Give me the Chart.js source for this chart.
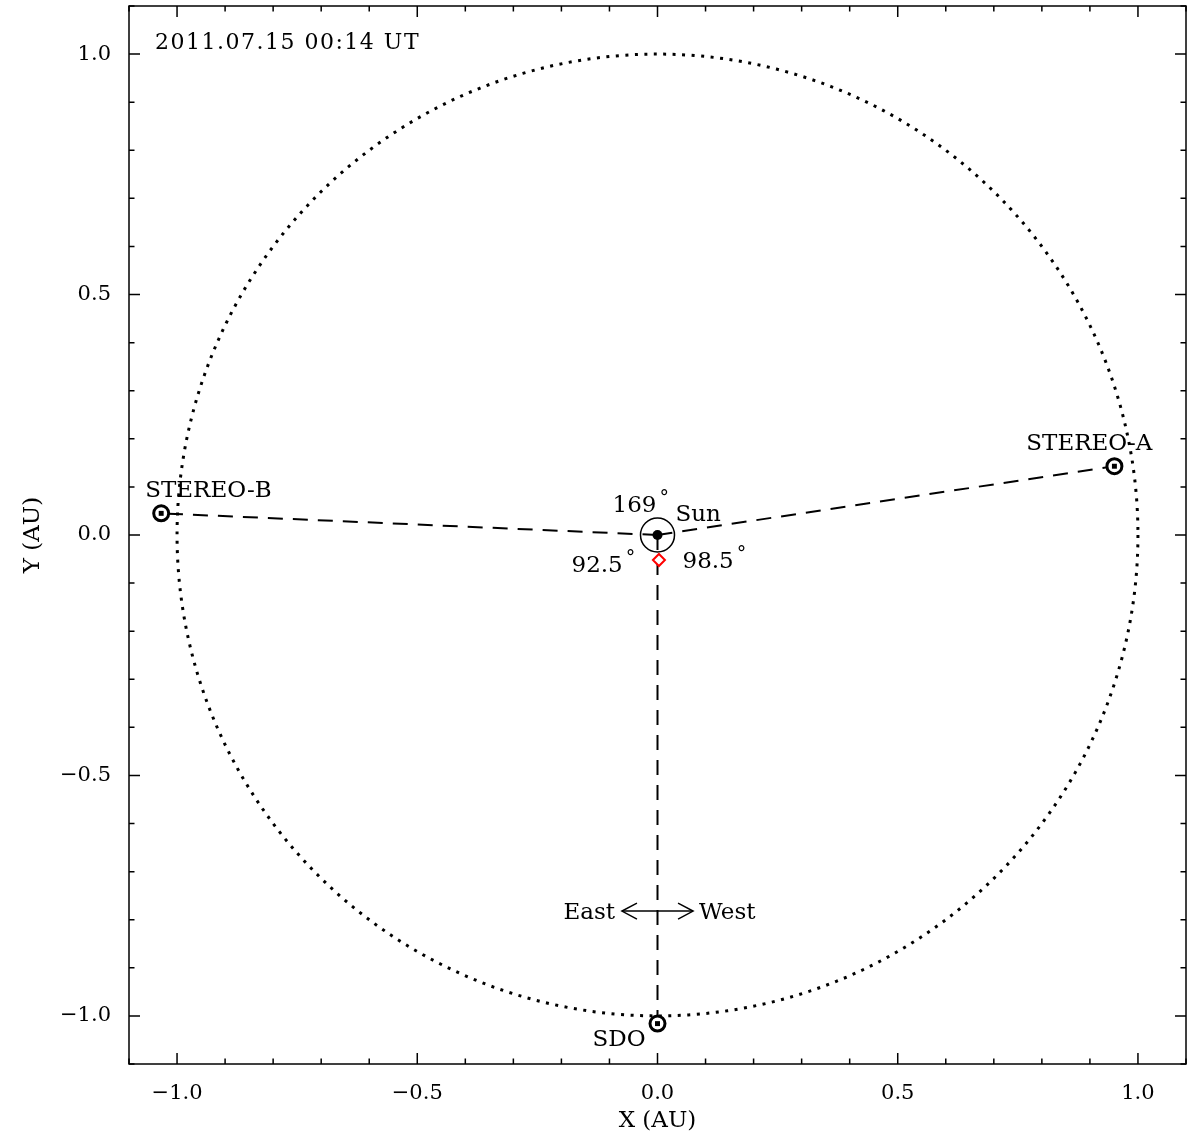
<!DOCTYPE html>
<html>
<head>
<meta charset="utf-8">
<script src="https://cdn.jsdelivr.net/npm/chart.js@4.4.0/dist/chart.umd.min.js"></script>
<style>
html, body { margin: 0; padding: 0; background: #fff; }
canvas { display: block; }
</style>
</head>
<body>
<canvas id="orbit-chart" width="1189" height="1136"></canvas>
<script>
// 数据
const TIMESTAMP = '2011.07.15 00:14 UT';
const CRAFT_NAMES = ['STEREO-B', 'STEREO-A', 'SDO'];
const CRAFT_X = [-1.033, 0.951, 0.0];
const CRAFT_Y = [0.045, 0.143, -1.016];
const SUN_X = 0.0;
const SUN_Y = 0.0;
const SOURCE_X = 0.003;
const SOURCE_Y = -0.052;
const SEPARATION_ANGLES = ['169', '92.5', '98.5'];
const ORBIT_RADIUS = 1.0;
const ARROW_X = [-0.074, 0.074];
const ARROW_Y = -0.782;
const DIRECTION_LABELS = ['East', 'West'];
const TICK_VALUES = [-1.0, -0.5, 0.0, 0.5, 1.0];
const TICK_LABELS = ['\u22121.0', '\u22120.5', '0.0', '0.5', '1.0'];
const AXIS_MIN = -1.1;
const AXIS_MAX = 1.1;
const MINOR_STEP = 0.1;

const FONT_FAMILY = '"DejaVu Serif", "Liberation Serif", serif';
const LABEL_FONT = '23px ' + FONT_FAMILY;

// 标注位置 (像素偏移)
const craftLabelPlacement = [
    { dx: -16, dy: -16, align: 'left' },
    { dx: 38, dy: -16, align: 'right' },
    { dx: -12, dy: 22, align: 'right' }
];
const angleLabelPlacement = [
    { dx: -45, dy: -23 },
    { dx: -86, dy: 37 },
    { dx: 25, dy: 33 }
];

function tickLabel(value) {
    const idx = TICK_VALUES.findIndex(v => Math.abs(v - value) < 1e-6);
    return idx >= 0 ? TICK_LABELS[idx] : '';
}

function isMajor(value) {
    return TICK_VALUES.some(v => Math.abs(v - value) < 1e-6);
}

const craftPoints = CRAFT_X.map((x, i) => ({ x: x, y: CRAFT_Y[i] }));
const sunPoint = [{ x: SUN_X, y: SUN_Y }];

// 装饰插件：轨道、边框、刻度、文字
const orbitPlugin = {
    id: 'orbitDecor',
    beforeDatasetsDraw(chart) {
        const { ctx, scales: { x, y } } = chart;
        const cx = x.getPixelForValue(SUN_X);
        const cy = y.getPixelForValue(SUN_Y);
        const rx = x.getPixelForValue(SUN_X + ORBIT_RADIUS) - cx;
        const ry = cy - y.getPixelForValue(SUN_Y + ORBIT_RADIUS);
        ctx.save();
        ctx.beginPath();
        ctx.setLineDash([3, 6.5]);
        ctx.lineWidth = 3;
        ctx.strokeStyle = '#000';
        ctx.ellipse(cx, cy, rx, ry, 0, 0, Math.PI * 2);
        ctx.stroke();
        ctx.restore();
    },
    afterDatasetsDraw(chart) {
        const { ctx, chartArea: area, scales: { x, y } } = chart;
        ctx.save();
        ctx.strokeStyle = '#000';
        ctx.fillStyle = '#000';

        // 边框
        ctx.lineWidth = 1.5;
        ctx.strokeRect(area.left, area.top, area.right - area.left, area.bottom - area.top);

        // 刻度 (向内)
        ctx.beginPath();
        x.ticks.forEach(t => {
            const px = x.getPixelForValue(t.value);
            const len = isMajor(t.value) ? 11 : 5.5;
            ctx.moveTo(px, area.bottom);
            ctx.lineTo(px, area.bottom - len);
            ctx.moveTo(px, area.top);
            ctx.lineTo(px, area.top + len);
        });
        y.ticks.forEach(t => {
            const py = y.getPixelForValue(t.value);
            const len = isMajor(t.value) ? 11 : 5.5;
            ctx.moveTo(area.left, py);
            ctx.lineTo(area.left + len, py);
            ctx.moveTo(area.right, py);
            ctx.lineTo(area.right - len, py);
        });
        ctx.stroke();

        // 东西箭头
        const ax0 = x.getPixelForValue(ARROW_X[0]);
        const ax1 = x.getPixelForValue(ARROW_X[1]);
        const ay = y.getPixelForValue(ARROW_Y);
        ctx.beginPath();
        ctx.moveTo(ax0 + 15, ay - 8);
        ctx.lineTo(ax0, ay);
        ctx.lineTo(ax0 + 15, ay + 8);
        ctx.moveTo(ax1 - 15, ay - 8);
        ctx.lineTo(ax1, ay);
        ctx.lineTo(ax1 - 15, ay + 8);
        ctx.stroke();

        ctx.font = LABEL_FONT;
        ctx.textBaseline = 'alphabetic';
        ctx.textAlign = 'right';
        ctx.fillText(DIRECTION_LABELS[0], ax0 - 7, ay + 8);
        ctx.textAlign = 'left';
        ctx.fillText(DIRECTION_LABELS[1], ax1 + 6, ay + 8);

        // 航天器名称
        CRAFT_NAMES.forEach((name, i) => {
            const p = craftLabelPlacement[i];
            ctx.textAlign = p.align;
            ctx.fillText(name, x.getPixelForValue(CRAFT_X[i]) + p.dx, y.getPixelForValue(CRAFT_Y[i]) + p.dy);
        });

        // 太阳和角度
        const sx = x.getPixelForValue(SUN_X);
        const sy = y.getPixelForValue(SUN_Y);
        ctx.textAlign = 'left';
        ctx.fillText('Sun', sx + 18, sy - 14);
        SEPARATION_ANGLES.forEach((angle, i) => {
            const p = angleLabelPlacement[i];
            ctx.font = LABEL_FONT;
            const tx = sx + p.dx;
            const ty = sy + p.dy;
            ctx.fillText(angle, tx, ty);
            const w = ctx.measureText(angle).width;
            ctx.font = '19px ' + FONT_FAMILY;
            ctx.fillText('\u00b0', tx + w + 3, ty - 9);
        });

        // 时间
        ctx.font = '22px ' + FONT_FAMILY;
        ctx.letterSpacing = '1.5px';
        ctx.fillText(TIMESTAMP, area.left + 26, area.top + 43);
        ctx.letterSpacing = '0px';
        ctx.restore();
    }
};

const axisCommon = {
    type: 'linear',
    min: AXIS_MIN,
    max: AXIS_MAX,
    grid: { display: false },
    border: { display: false },
    ticks: {
        stepSize: MINOR_STEP,
        autoSkip: false,
        maxRotation: 0,
        color: '#000',
        font: { family: FONT_FAMILY, size: 21 },
        callback: value => tickLabel(value)
    }
};

const chart = new Chart(document.getElementById('orbit-chart'), {
    type: 'scatter',
    data: {
        datasets: [
            ...CRAFT_NAMES.map((name, i) => ({
                label: 'Sun-' + name,
                data: [sunPoint[0], craftPoints[i]],
                showLine: true,
                fill: false,
                borderColor: '#000',
                borderWidth: 2,
                borderDash: [15, 10],
                pointRadius: 0,
                order: 10
            })),
            {
                label: 'East-West',
                data: [{ x: ARROW_X[0], y: ARROW_Y }, { x: ARROW_X[1], y: ARROW_Y }],
                showLine: true,
                fill: false,
                borderColor: '#000',
                borderWidth: 1.5,
                pointRadius: 0,
                order: 9
            },
            {
                label: 'Sun',
                data: sunPoint,
                pointRadius: 17,
                pointBorderWidth: 1.5,
                pointBorderColor: '#000',
                pointBackgroundColor: 'rgba(0,0,0,0)',
                order: 6
            },
            {
                label: 'Sun core',
                data: sunPoint,
                pointRadius: 5,
                pointBorderWidth: 0,
                pointBackgroundColor: '#000',
                order: 5
            },
            {
                label: 'Spacecraft',
                data: craftPoints,
                pointRadius: 7.5,
                pointBorderWidth: 3,
                pointBorderColor: '#000',
                pointBackgroundColor: '#fff',
                order: 4
            },
            {
                label: 'Spacecraft core',
                data: craftPoints,
                pointStyle: 'rect',
                pointRadius: 3.5,
                pointBorderWidth: 0,
                pointBackgroundColor: '#000',
                order: 3
            },
            {
                label: 'Source',
                data: [{ x: SOURCE_X, y: SOURCE_Y }],
                pointStyle: 'rectRot',
                pointRadius: 6,
                pointBorderWidth: 2,
                pointBorderColor: '#f00',
                pointBackgroundColor: '#fff',
                order: 2
            }
        ]
    },
    options: {
        responsive: false,
        animation: false,
        layout: { autoPadding: false, padding: { top: 6, right: 3, left: 0, bottom: 0 } },
        plugins: { legend: { display: false }, tooltip: { enabled: false } },
        scales: {
            x: {
                ...axisCommon,
                ticks: { ...axisCommon.ticks, padding: 9 },
                title: {
                    display: true,
                    text: 'X (AU)',
                    color: '#000',
                    font: { family: FONT_FAMILY, size: 23 },
                    padding: { top: 1, bottom: 1 }
                },
                afterFit: scale => {
                    scale.height = 72;
                    scale.paddingLeft = 0;
                    scale.paddingRight = 0;
                }
            },
            y: {
                ...axisCommon,
                ticks: { ...axisCommon.ticks, padding: 10 },
                title: {
                    display: true,
                    text: 'Y (AU)',
                    color: '#000',
                    font: { family: FONT_FAMILY, size: 23 },
                    padding: { top: 19, bottom: 0 }
                },
                afterFit: scale => {
                    scale.width = 129;
                    scale.paddingTop = 0;
                    scale.paddingBottom = 0;
                }
            }
        }
    },
    plugins: [orbitPlugin]
});
</script>
</body>
</html>
